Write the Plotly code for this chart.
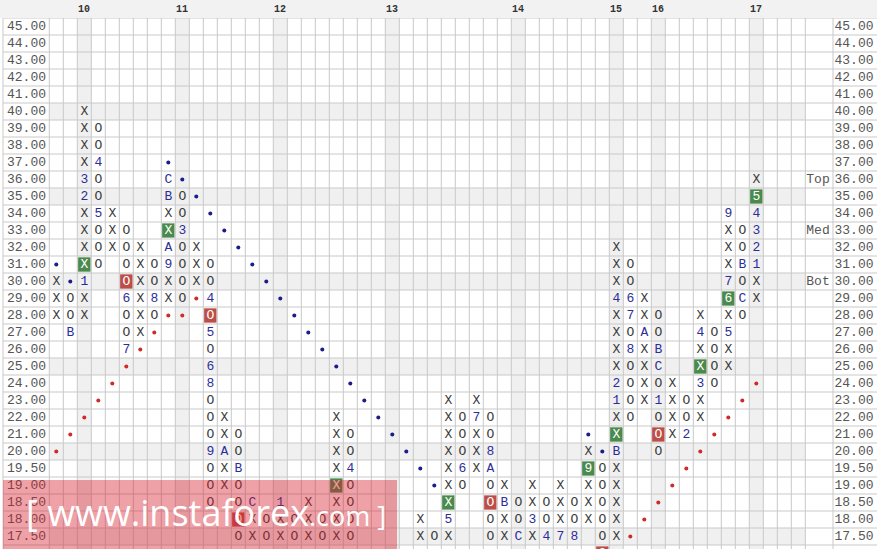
import plotly.graph_objects as go

# ---------------- data ----------------
ROW_LABELS = ["45.00", "44.00", "43.00", "42.00", "41.00", "40.00", "39.00", "38.00",
              "37.00", "36.00", "35.00", "34.00", "33.00", "32.00", "31.00", "30.00",
              "29.00", "28.00", "27.00", "26.00", "25.00", "24.00", "23.00", "22.00",
              "21.00", "20.00", "19.50", "19.00", "18.50", "18.00", "17.50", "17.00"]
N_LABELLED = 31  # rows fully visible (45.00 .. 17.50)

YEAR_COLS = [2, 9, 16, 24, 33, 40, 43, 50]
YEAR_LABELS = ["10", "11", "12", "13", "14", "15", "16", "17"]
HIGHLIGHT_ROWS = ["40.00", "35.00", "30.00", "25.00", "20.00", "17.50"]
ZONE_LABELS = ["Top", "Med", "Bot"]
ZONE_ROWS = ["36.00", "33.00", "30.00"]

# point & figure columns: column index, top price, boxes from top to bottom
PF_COLS = [0, 1, 2, 3, 4, 5, 6, 7, 8, 9, 10, 11, 12, 13, 14, 15, 16, 17, 18, 19, 20, 21,
           26, 27, 28, 29, 30, 31, 32, 33, 34, 35, 36, 37, 38, 39, 40, 41, 42, 43, 44,
           45, 46, 47, 48, 49, 50]
PF_TOPS = ["30.00", "29.00", "40.00", "39.00", "34.00", "33.00", "32.00", "31.00", "36.00",
           "35.00", "32.00", "31.00", "22.00", "21.00", "18.50", "18.00", "18.50", "18.00",
           "18.50", "18.00", "22.00", "21.00",
           "18.00", "17.50", "23.00", "22.00", "23.00", "22.00", "19.00", "18.50", "19.00",
           "18.50", "19.00", "18.50", "20.00", "19.50", "32.00", "31.00", "29.00", "28.00",
           "24.00", "23.00", "28.00", "27.00", "34.00", "33.00", "36.00"]
PF_BOXES = ["XXX", "OOB", "XXXX32XXXX1XX", "OO4OO5OOO", "XXX", "OOOO6OO7", "XXXXXX",
            "OO8O", "CBXXA9XX", "OO3OOOO", "XXX", "OO4O5O68OOO9OOO", "XXAXX", "OOBOOOO",
            "CXX", "OO", "1XX", "OO", "XXX", "OO", "XXXXXXXX", "OO4OOOO",
            "XX", "O", "XXXXXXX5X", "OOO6O", "X7XXX", "OO8AOOOO", "XBXX", "OOC", "XX3X",
            "OO4", "XXX7", "OO8", "X9XXX", "OOOOOO", "XXX4XXXX21XXBXXXXX", "OO67O8OOOO",
            "XXAXXXX", "OOBCO1OOO", "XXXX", "OO2", "X4XX3XX", "OOOO", "9XXX76X5XX",
            "OOBOCO", "X54321XX"]

GREEN_COLS = [2, 8, 20, 28, 38, 40, 46, 48, 50]
GREEN_ROWS = ["31.00", "33.00", "19.00", "18.50", "19.50", "21.00", "25.00", "29.00", "35.00"]
RED_COLS = [5, 11, 13, 31, 39, 43]
RED_ROWS = ["30.00", "28.00", "18.00", "18.50", "17.00", "21.00"]

BLUE_DOT_COLS = [0, 1, 8, 9, 10, 11, 12, 13, 14, 15, 16, 17, 18, 19, 20, 21, 22, 23, 24,
                 25, 26, 27, 38, 39]
BLUE_DOT_ROWS = ["31.00", "30.00", "37.00", "36.00", "35.00", "34.00", "33.00", "32.00",
                 "31.00", "30.00", "29.00", "28.00", "27.00", "26.00", "25.00", "24.00",
                 "23.00", "22.00", "21.00", "20.00", "19.50", "19.00", "21.00", "20.00"]
RED_DOT_COLS = [0, 1, 2, 3, 4, 5, 6, 7, 8, 9, 10, 41, 42, 43, 44, 45, 46, 47, 48, 49, 50]
RED_DOT_ROWS = ["20.00", "21.00", "22.00", "23.00", "24.00", "25.00", "26.00", "27.00",
                "28.00", "28.00", "29.00", "17.50", "18.00", "18.50", "19.00", "19.50",
                "20.00", "21.00", "22.00", "23.00", "24.00"]

# ---------------- geometry / style ----------------
W, H = 877, 549
COL_W, ROW_H = 14.0, 17.0
GRID_LEFT = 49.3
HEADER_H = 18.0
N_COLS = 54
N_ROWS_VIS = 31
X0 = -0.5 - GRID_LEFT / COL_W
X1 = X0 + W / COL_W
Y_BOT = -0.5 + (H - HEADER_H) / ROW_H


def xp(px):
    return X0 + px / COL_W


MONO = "Liberation Mono, Courier New, monospace"
GRID_C = "#c9c9c9"
HL_C = "#f0f0f0"
TXT_C = "#3a3a3a"
MONTH_C = "#2d2d9a"
GREEN = "#4a8a4c"
RED = "#bd4d48"

ridx = {lab: i for i, lab in enumerate(ROW_LABELS)}

fig = go.Figure()
shapes = []

# header band
shapes.append(dict(type="rect", xref="paper", yref="paper", x0=0, x1=1,
                   y0=(H - HEADER_H) / H, y1=1, fillcolor="#f2f2f2", line_width=0,
                   layer="below"))
# highlighted columns and rows
for c in YEAR_COLS:
    shapes.append(dict(type="rect", xref="x", yref="y", x0=c - 0.5, x1=c + 0.5,
                       y0=-0.5, y1=Y_BOT, fillcolor=HL_C, line_width=0, layer="below"))
for lab in HIGHLIGHT_ROWS:
    r = ridx[lab]
    shapes.append(dict(type="rect", xref="x", yref="y", x0=-0.5, x1=N_COLS - 0.5,
                       y0=r - 0.5, y1=r + 0.5, fillcolor=HL_C, line_width=0, layer="below"))
# grid lines
for k in range(N_COLS + 1):
    shapes.append(dict(type="line", xref="x", yref="y", x0=k - 0.5, x1=k - 0.5,
                       y0=-0.5, y1=Y_BOT, line=dict(color=GRID_C, width=1), layer="below"))
for xx in (xp(3), xp(833)):
    shapes.append(dict(type="line", xref="x", yref="y", x0=xx, x1=xx,
                       y0=-0.5, y1=Y_BOT, line=dict(color=GRID_C, width=1), layer="below"))
for r in range(-1, N_ROWS_VIS):
    shapes.append(dict(type="line", xref="x", yref="y", x0=xp(3), x1=X1,
                       y0=r + 0.5, y1=r + 0.5, line=dict(color=GRID_C, width=1),
                       layer="below"))
# signal boxes
for cols, rows, colr in ((GREEN_COLS, GREEN_ROWS, GREEN), (RED_COLS, RED_ROWS, RED)):
    for c, lab in zip(cols, rows):
        r = ridx[lab]
        shapes.append(dict(type="rect", xref="x", yref="y", x0=c - 0.44, x1=c + 0.44,
                           y0=r - 0.42, y1=r + 0.42, fillcolor=colr, line_width=0,
                           layer="below"))

# cells
box_set = set((c, ridx[l]) for c, l in zip(GREEN_COLS + RED_COLS, GREEN_ROWS + RED_ROWS))
xo_x, xo_y, xo_t = [], [], []
mo_x, mo_y, mo_t = [], [], []
bx_x, bx_y, bx_t = [], [], []
for c, top, s in zip(PF_COLS, PF_TOPS, PF_BOXES):
    r0 = ridx[top]
    for i, ch in enumerate(s):
        r = r0 + i
        if (c, r) in box_set:
            bx_x.append(c); bx_y.append(r); bx_t.append(ch)
        elif ch in "XO":
            xo_x.append(c); xo_y.append(r); xo_t.append(ch)
        else:
            mo_x.append(c); mo_y.append(r); mo_t.append(ch)

fig.add_trace(go.Scatter(x=xo_x, y=xo_y, text=xo_t, mode="text",
                         textfont=dict(family=MONO, size=13, color=TXT_C),
                         textposition="middle center"))
fig.add_trace(go.Scatter(x=mo_x, y=mo_y, text=mo_t, mode="text",
                         textfont=dict(family=MONO, size=13, color=MONTH_C),
                         textposition="middle center"))
fig.add_trace(go.Scatter(x=bx_x, y=bx_y, text=bx_t, mode="text",
                         textfont=dict(family=MONO, size=13, color="white"),
                         textposition="middle center"))
fig.add_trace(go.Scatter(x=BLUE_DOT_COLS, y=[ridx[l] for l in BLUE_DOT_ROWS], mode="markers",
                         marker=dict(color="#1c1c8a", size=4, line_width=0)))
fig.add_trace(go.Scatter(x=RED_DOT_COLS, y=[ridx[l] for l in RED_DOT_ROWS], mode="markers",
                         marker=dict(color="#d02a2a", size=4, line_width=0)))

# price labels left / right, zone labels
rows_vis = list(range(N_LABELLED))
labels_vis = ROW_LABELS[:N_LABELLED]
fig.add_trace(go.Scatter(x=[xp(26.5)] * len(rows_vis), y=rows_vis, text=labels_vis,
                         mode="text", textfont=dict(family=MONO, size=13, color="#555555"),
                         textposition="middle center"))
fig.add_trace(go.Scatter(x=[xp(854)] * len(rows_vis), y=rows_vis, text=labels_vis,
                         mode="text", textfont=dict(family=MONO, size=13, color="#555555"),
                         textposition="middle center"))
fig.add_trace(go.Scatter(x=[xp(818)] * len(ZONE_ROWS), y=[ridx[l] for l in ZONE_ROWS],
                         text=ZONE_LABELS, mode="text",
                         textfont=dict(family=MONO, size=13, color="#555555"),
                         textposition="middle center"))

annotations = []
for c, lab in zip(YEAR_COLS, YEAR_LABELS):
    annotations.append(dict(x=c, y=1 - 9 / H, xref="x", yref="paper", text="<b>" + lab + "</b>",
                            showarrow=False, font=dict(family=MONO, size=10, color="#333333"),
                            xanchor="center", yanchor="middle"))

# watermark
shapes.append(dict(type="rect", xref="paper", yref="paper", x0=3 / W, x1=397 / W,
                   y0=-0.05, y1=(H - 480) / H, fillcolor="rgba(214,32,44,0.42)",
                   line_width=0, layer="above"))
annotations.append(dict(x=24 / W, y=1 - 512 / H, xref="paper", yref="paper",
                        text="[ www.instaforex<span style='font-size:27px'>.com ]</span>",
                        showarrow=False, xanchor="left", yanchor="middle",
                        font=dict(family="Open Sans, Liberation Sans, sans-serif", size=36,
                                  color="white")))

fig.update_layout(
    width=W, height=H, margin=dict(l=0, r=0, t=0, b=0),
    paper_bgcolor="white", plot_bgcolor="white", showlegend=False, hovermode=False,
    shapes=shapes, annotations=annotations,
    xaxis=dict(range=[X0, X1], domain=[0, 1], visible=False, fixedrange=True),
    yaxis=dict(range=[Y_BOT, -0.5], domain=[0, (H - HEADER_H) / H], visible=False,
               fixedrange=True),
)

fig.write_html("out.html", config={"displayModeBar": False},
               post_script="document.body.style.margin='0';document.body.style.overflow='hidden';")
